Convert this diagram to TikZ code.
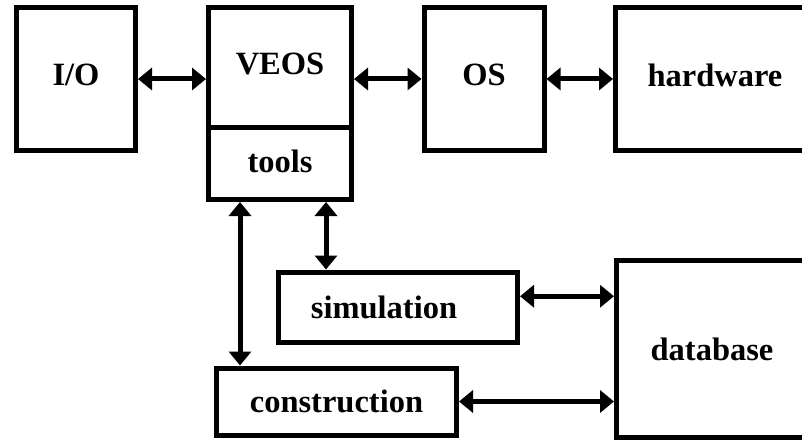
\documentclass[tikz,border=0pt]{standalone}
\usepackage{fontspec}
\setmainfont{Liberation Serif}
\usetikzlibrary{arrows.meta}
\begin{document}
\begin{tikzpicture}[x=1pt,y=-1pt,
  box/.style={draw=black, line width=5pt, rectangle, inner sep=0pt, fill=white,
    font=\fontsize{32.5}{38}\selectfont\bfseries},
  arr/.style={line width=5pt, {Triangle[length=14pt,width=22pt]}-{Triangle[length=14pt,width=22pt]}}]
\useasboundingbox (0,0) rectangle (802,441);
\clip (0,0) rectangle (802,441);
\node[box, minimum width=119pt, minimum height=143pt, text depth=8pt] (io) at (76,79) {I/O};
\node[box, minimum width=143pt, minimum height=120pt, text depth=7pt] (veos) at (280,67.5) {VEOS};
\node[box, minimum width=143pt, minimum height=72pt, text depth=5pt] (tools) at (280,163.5) {tools};
\node[box, minimum width=120pt, minimum height=143pt, text depth=8pt] (os) at (484,79) {OS};
\node[box, minimum width=199pt, minimum height=143pt, text depth=8pt] (hw) at (715,79) {hardware};
\node[box, minimum width=239pt, minimum height=70.5pt] (sim) at (398,307.25) {simulation\hspace*{28pt}};
\node[box, minimum width=240pt, minimum height=67pt] (con) at (336.5,401.5) {construction};
\node[box, minimum width=191pt, minimum height=177pt] (db) at (712,349) {database};
\draw[arr] (io.east) -- (io.east -| veos.west);
\draw[arr] (veos.east |- os.west) -- (os.west);
\draw[arr] (os.east) -- (hw.west);
\draw[arr] ([xshift=-40pt]tools.south) -- ([xshift=-40pt]tools.south |- con.north);
\draw[arr] ([xshift=46pt]tools.south) -- ([xshift=46pt]tools.south |- sim.north);
\draw[arr] ([yshift=11pt]sim.east) -- ([yshift=11pt]sim.east -| db.west);
\draw[arr] (con.east) -- (con.east -| db.west);
\end{tikzpicture}
\end{document}
